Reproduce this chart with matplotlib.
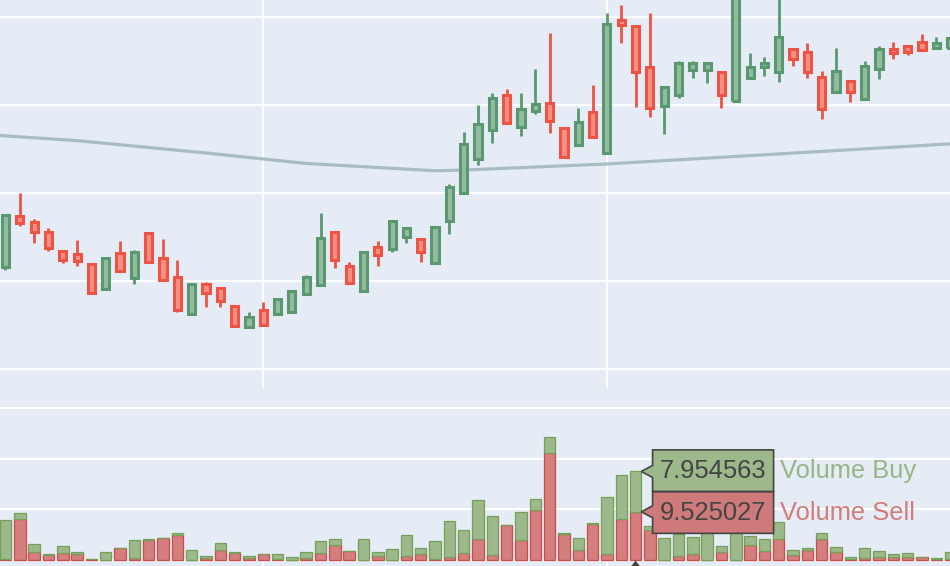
import numpy as np
import matplotlib
matplotlib.use("Agg")
import matplotlib.pyplot as plt
from matplotlib.patches import Rectangle, Polygon
from matplotlib.transforms import IdentityTransform

plt.rcParams['font.family'] = ['Liberation Sans', 'DejaVu Sans']

# candles, one per period
opens = [21.61, 27.37, 26.72, 25.58, 23.39, 23.05, 21.88, 19.05, 23.13, 20.36,
         25.40, 22.56, 20.48, 16.24, 19.65, 19.16, 17.15, 14.80, 16.66, 16.24,
         16.50, 18.48, 19.53, 25.58, 21.69, 18.85, 23.88, 23.62, 25.02, 24.75,
         21.99, 26.80, 29.94, 33.83, 37.13, 41.10, 37.50, 39.28, 40.16, 37.39,
         35.42, 39.20, 34.48, 49.61, 48.93, 44.24, 39.85, 41.10, 43.94, 43.94,
         43.74, 40.45, 43.00, 44.31, 43.74, 46.29, 46.02, 43.18, 41.41, 42.72,
         40.65, 44.05, 46.32, 46.69, 47.08, 46.40, 46.49]
highs = [27.48, 29.94, 27.02, 26.04, 23.39, 24.61, 21.88, 22.56, 24.56, 23.51,
         25.40, 24.72, 22.37, 19.65, 19.87, 19.23, 17.15, 16.47, 17.60, 17.98,
         18.82, 20.63, 27.67, 25.58, 22.18, 23.24, 24.53, 26.80, 26.04, 24.75,
         26.15, 30.96, 36.87, 39.97, 41.29, 41.75, 41.29, 44.02, 48.10, 37.39,
         39.66, 42.20, 50.37, 51.35, 48.93, 50.37, 42.04, 44.99, 44.99, 44.77,
         43.74, 52.60, 45.90, 45.45, 53.00, 46.29, 46.97, 43.86, 46.40, 42.72,
         44.96, 46.66, 47.08, 46.69, 48.02, 47.65, 47.60]
lows = [21.24, 26.26, 24.27, 23.43, 22.07, 21.69, 18.59, 19.05, 21.12, 19.61,
        22.18, 20.10, 16.50, 16.24, 17.07, 17.00, 14.73, 14.80, 15.03, 16.24,
        16.50, 18.48, 19.53, 21.43, 19.73, 18.85, 21.72, 23.24, 24.27, 22.11,
        21.99, 25.29, 29.94, 33.15, 35.69, 37.96, 36.48, 38.91, 36.82, 34.10,
        35.42, 36.37, 34.48, 46.97, 39.77, 38.64, 36.64, 40.73, 43.00, 42.43,
        39.59, 40.45, 43.00, 43.29, 42.61, 44.39, 43.00, 38.34, 41.41, 40.34,
        40.65, 42.88, 45.15, 45.64, 46.21, 46.40, 43.71]
closes = [27.48, 26.54, 25.51, 23.70, 22.37, 22.29, 18.59, 22.56, 21.12, 23.31,
          22.18, 20.10, 16.70, 19.65, 18.66, 17.75, 14.91, 15.90, 15.03, 17.98,
          18.82, 20.48, 24.90, 22.37, 19.73, 23.24, 22.94, 26.80, 26.04, 23.24,
          26.15, 30.69, 35.50, 37.77, 40.79, 37.96, 39.51, 40.04, 38.15, 34.10,
          38.00, 36.37, 49.16, 49.05, 43.68, 39.66, 42.04, 44.70, 44.77, 44.77,
          41.10, 52.30, 44.31, 44.70, 47.65, 45.15, 43.74, 39.48, 43.82, 41.48,
          44.43, 46.29, 45.83, 46.02, 46.21, 46.97, 47.57]

# slow moving average, sampled at a few candles
ma_idx = [-1, 0, 5, 14, 21, 30, 32, 42, 67]
ma_val = [36.57, 36.46, 35.92, 34.52, 33.33, 32.50, 32.58, 33.27, 35.65]

# volumes (sell stacked under buy)
vol_sell = [0.2, 8.1, 1.5, 0.99, 1.31, 1.18, 0.13, 0.0, 2.37, 0.39,
            3.88, 4.27, 4.93, 0.0, 0.33, 1.97, 1.31, 0.39, 1.12, 0.2,
            0.0, 0.39, 1.38, 2.96, 1.7, 0.0, 0.79, 0.0, 0.72, 1.18,
            0.13, 0.59, 1.31, 4.07, 0.99, 6.9, 3.88, 9.86, 21.04, 5.13,
            1.9, 7.1, 1.12, 8.09, 9.525027, 5.9, 0.1, 0.7, 1.18, 0.0,
            1.5, 0.0, 2.89, 1.84, 4.07, 0.99, 1.97, 4.07, 1.58, 0.2,
            0.39, 0.53, 0.59, 0.59, 0.53, 0.26, 0.2]
vol_buy = [7.7, 1.1, 1.66, 0.19, 1.45, 0.4, 0.07, 1.58, 0.05, 3.55,
           0.26, 0.07, 0.4, 1.97, 0.46, 1.38, 0.27, 0.4, 0.06, 0.98,
           0.59, 1.19, 2.37, 1.18, 0.08, 4.14, 0.79, 2.17, 4.21, 1.19,
           3.62, 7.1, 4.61, 7.76, 7.69, 0.05, 5.59, 2.17, 3.22, 0.2,
           2.5, 0.13, 11.31, 8.68, 7.954563, 0.8, 4.3, 4.4, 3.42, 7.0,
           1.26, 6.0, 1.84, 2.23, 3.53, 0.98, 0.4, 1.19, 0.98, 0.39,
           1.98, 1.25, 0.59, 0.79, 0.06, 0.13, 1.38]

hover_i = 44
price_grid = [10, 20, 30, 40, 50]
vol_grid = [10, 20, 30]
x_grid = [18, 42]

BG = '#E5ECF6'
UP = '#5A9870'
DOWN = '#EE5444'
BUY = '#9DB88A'
BUY_EDGE = '#74A058'
SELL = '#D47E7D'
SELL_EDGE = '#CC4B4B'
DARK = '#444444'

fig = plt.figure(figsize=(9.5, 5.66), dpi=100)
ax = fig.add_axes([0, 178 / 566, 1, 388 / 566])
axv = fig.add_axes([0, 0, 1, 178 / 566])

for a in (ax, axv):
    a.set_facecolor(BG)
    for s in a.spines.values():
        s.set_visible(False)
    a.set_xticks([])
    a.set_yticks([])
    a.set_xlim(-0.384, 65.96)

ax.set_ylim(7.84, 51.884)
axv.set_ylim(-1.18, 33.95)
for g in x_grid:
    ax.axvline(g, color='white', lw=1.5, zorder=0)
    axv.vlines(g, -1.18, 0, color='white', lw=1.5, zorder=0)
for g in price_grid:
    ax.axhline(g, color='white', lw=1.5, zorder=0)
for g in vol_grid:
    axv.axhline(g, color='white', lw=1.5, zorder=0)
axv.axhline(0, color='white', lw=1.6, zorder=0)

# moving average
ax.plot(ma_idx, ma_val, color='#A8BDC2', lw=2.3, zorder=1, solid_capstyle='butt')

# candlesticks
bw = 0.5
for i in range(len(opens)):
    o, h, l, c = opens[i], highs[i], lows[i], closes[i]
    col = UP if c >= o else DOWN
    ax.plot([i, i], [l, h], color=col, lw=2.0, zorder=2, solid_capstyle='butt')
    lo, hi = min(o, c), max(o, c)
    ht = max(hi - lo, 0.05)
    ax.add_patch(Rectangle((i - bw / 2, lo), bw, ht,
                           facecolor=col, edgecolor='none', zorder=3))
    ax.add_patch(Rectangle((i - bw / 2, lo), bw, ht,
                           facecolor='white', alpha=0.35, edgecolor='none', zorder=3))
    ax.add_patch(Rectangle((i - bw / 2, lo), bw, ht,
                           facecolor='none', edgecolor=col, lw=2.2, zorder=4))

# volume bars
xs = np.arange(len(vol_sell))
axv.bar(xs, vol_sell, width=0.8, color=SELL, edgecolor=SELL_EDGE, lw=0.9, zorder=2)
axv.bar(xs, vol_buy, width=0.8, bottom=vol_sell, color=BUY, edgecolor=BUY_EDGE,
        lw=0.9, zorder=2)

fig.canvas.draw()

# hover labels, positioned from the hovered bar
ident = IdentityTransform()
labels = [
    (vol_sell[hover_i] + vol_buy[hover_i], '%.6f' % vol_buy[hover_i], 'Volume Buy',
     BUY, '#97B585', 0.8),
    (vol_sell[hover_i], '%.6f' % vol_sell[hover_i], 'Volume Sell',
     '#CF7A7A', '#D47B7B', -0.8),
]
for yv, num, name, fill, tcol, shift in labels:
    tx, ty = axv.transData.transform((hover_i + 0.4, yv))
    cy = ty + shift
    top, bot = cy + 20.8, cy - 20.8
    pts = [(tx, ty), (tx + 11.3, ty + 6), (tx + 11.3, top), (tx + 132.3, top),
           (tx + 132.3, bot), (tx + 11.3, bot), (tx + 11.3, ty - 6)]
    fig.add_artist(Polygon(pts, closed=True, facecolor=fill, edgecolor=DARK,
                           lw=1.2, transform=ident, zorder=10))
    fig.text(tx + 18.3, cy, num, transform=ident, fontsize=18.4, color=DARK,
             va='center', ha='left', zorder=11)
    fig.text(tx + 138.3, cy, name, transform=ident, fontsize=18.4, color=tcol,
             va='center', ha='left', zorder=11)

# x hover marker peeking in at the bottom
bx, by = axv.transData.transform((hover_i, 0))
fig.add_artist(Polygon([(bx, by - 0.5), (bx - 5, by - 7), (bx + 5, by - 7)],
                       closed=True, facecolor=DARK, edgecolor='none',
                       transform=ident, zorder=10))

fig.savefig('out.png', dpi=100, facecolor='white')
